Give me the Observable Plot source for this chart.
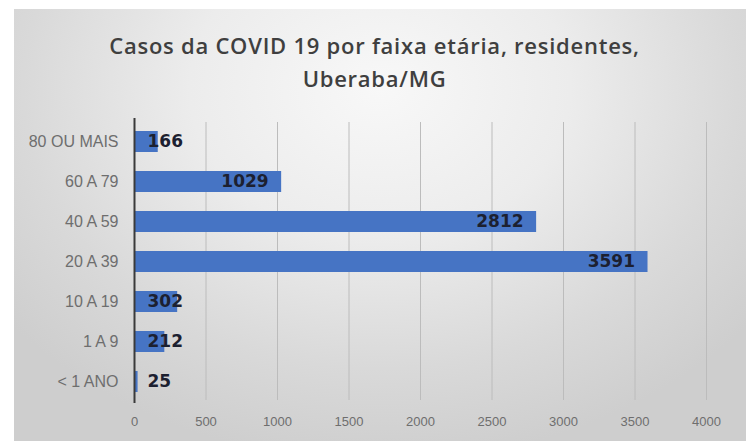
<!DOCTYPE html>
<html><head><meta charset="utf-8">
<script src="https://cdn.jsdelivr.net/npm/d3@7"></script>
<script src="https://cdn.jsdelivr.net/npm/@observablehq/plot@0.6"></script>
<style>
html,body{margin:0;padding:0;background:#fff;}
#wrap{position:relative;width:749px;height:441px;overflow:hidden;background:#fff;}
#panel{position:absolute;left:14px;top:9px;width:732px;height:440px;
  background:radial-gradient(ellipse 65% 85% at 50% 18%, #f8f8f8 0%, #ececec 40%, #d9d9d9 75%, #cecece 100%);}
#title{position:absolute;left:0;top:29px;width:749px;text-align:center;font-family:"Open Sans";font-weight:600;font-size:22px;letter-spacing:0.75px;color:#3f3f3f;line-height:33px;}
#chart{position:absolute;left:0;top:100px;}
</style></head>
<body>
<div id="wrap">
  <div id="panel"></div>
  <div id="title">Casos da COVID 19 por faixa etária, residentes,<br>Uberaba/MG</div>
  <div id="chart"></div>
</div>
<script>
const categories = ["80 OU MAIS","60 A 79","40 A 59","20 A 39","10 A 19","1 A 9","< 1 ANO"];
const cases = [166, 1029, 2812, 3591, 302, 212, 25];
const xTicks = [0, 500, 1000, 1500, 2000, 2500, 3000, 3500, 4000];

const data = categories.map((c, i) => ({faixa: c, casos: cases[i]}));
const labelFont = {fontFamily: "DejaVu Sans", fontWeight: "bold", fontSize: 17, fill: "#1c2030"};

const chart = Plot.plot({
  width: 749, height: 341,
  marginTop: 20, marginBottom: 38, marginLeft: 134, marginRight: 43,
  style: {background: "transparent", fontFamily: "Liberation Sans", color: "#6e6e6e"},
  x: {domain: [0, 4000], label: null},
  y: {domain: categories, paddingInner: 0.47, paddingOuter: 0.235, label: null},
  marks: [
    Plot.ruleX(xTicks.filter(t => t > 0), {stroke: "#bcbcbc", strokeWidth: 1, insetTop: 2, insetBottom: 3}),
    Plot.barX(data, {x: "casos", y: "faixa", fill: "#4674c4"}),
    Plot.ruleX([0], {stroke: "#3a3a3a", strokeWidth: 2, insetTop: -2}),
    Plot.text(data.filter(d => d.casos >= 500), {x: "casos", y: "faixa", text: d => String(d.casos), textAnchor: "end", dx: -13, ...labelFont}),
    Plot.text(data.filter(d => d.casos < 500), {x: () => 0, y: "faixa", text: d => String(d.casos), textAnchor: "start", dx: 13, ...labelFont}),
    Plot.axisX({ticks: xTicks, tickFormat: d => String(d), tickSize: 0, tickPadding: 13, fontSize: 13, label: null}),
    Plot.axisY({tickSize: 0, tickPadding: 16, fontSize: 16, label: null})
  ]
});
document.getElementById("chart").appendChild(chart);
</script>
</body></html>
